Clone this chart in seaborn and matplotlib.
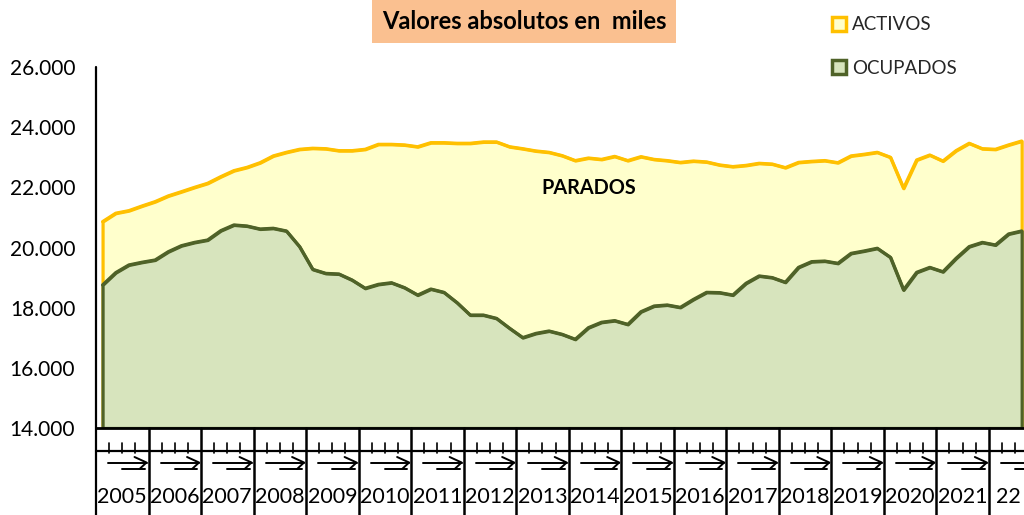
import numpy as np
import pandas as pd
import matplotlib
matplotlib.use("Agg")
import matplotlib.pyplot as plt
import seaborn as sns
from matplotlib.patches import Patch
from matplotlib.transforms import blended_transform_factory
from matplotlib.ticker import FuncFormatter

# ---------------- data (thousands of people, quarterly 2005T1 - 2022T3) -------------
years = list(range(2005, 2023))
year_labels = [str(y) for y in years[:-1]] + ["22"]
quarters_per_year = [4] * 17 + [3]

activos = [20860, 21140, 21225, 21380, 21525, 21715, 21855, 22000, 22135, 22355, 22555, 22665,
           22820, 23045, 23165, 23265, 23300, 23285, 23220, 23220, 23265, 23430, 23430, 23410,
           23350, 23485, 23485, 23465, 23465, 23510, 23510, 23350, 23285, 23210, 23165, 23055,
           22890, 22975, 22930, 23030, 22890, 23020, 22930, 22890, 22830, 22875, 22845, 22745,
           22690, 22730, 22800, 22775, 22655, 22830, 22865, 22890, 22820, 23045, 23100, 23165,
           23000, 21970, 22910, 23075, 22875, 23220, 23465, 23285, 23265, 23410, 23540]

ocupados = [18755, 19165, 19420, 19510, 19585, 19860, 20060, 20170, 20250, 20560, 20750, 20715,
            20615, 20640, 20550, 20030, 19275, 19140, 19120, 18920, 18645, 18775, 18830, 18665,
            18420, 18620, 18510, 18165, 17755, 17755, 17645, 17315, 17005, 17145, 17225, 17115,
            16950, 17335, 17515, 17570, 17445, 17865, 18055, 18090, 18010, 18275, 18510, 18500,
            18420, 18810, 19055, 19000, 18845, 19340, 19530, 19550, 19475, 19805, 19885, 19975,
            19675, 18590, 19175, 19340, 19195, 19640, 20030, 20170, 20085, 20450, 20550]

series_names = ["ACTIVOS", "OCUPADOS"]
fill_colors = ["#FFFFCC", "#D7E4BD"]
line_colors = ["#FFC000", "#4F6228"]

df = pd.DataFrame({"t": np.arange(len(activos)), "ACTIVOS": activos, "OCUPADOS": ocupados})

# ---------------- style ----------------
sns.set_style("white")
plt.rcParams["font.family"] = ["Lato", "DejaVu Sans"]

W, H = 1024, 515
fig = plt.figure(figsize=(W / 100, H / 100), dpi=100)
fig.patch.set_facecolor("white")

cat_px = 13.13
ax_left, ax_bottom, ax_w, ax_h = 96, 87, 928, 361
ax = fig.add_axes([ax_left / W, ax_bottom / H, ax_w / W, ax_h / H])
ax.set_facecolor("white")

base = 14000
for name, fc, lc in zip(series_names, fill_colors, line_colors):
    ax.fill_between(df["t"], base, df[name], facecolor=fc, edgecolor=lc,
                    linewidth=2.3, zorder=2)
    sns.lineplot(data=df, x="t", y=name, color=lc, linewidth=2.3, ax=ax, zorder=3)

ax.set_xlim(-0.5, -0.5 + ax_w / cat_px)
ax.set_ylim(14000, 26000)
ax.set_yticks(np.arange(14000, 26001, 2000))
ax.yaxis.set_major_formatter(FuncFormatter(lambda v, p: f"{int(v):,}".replace(",", ".")))
ax.tick_params(axis="y", length=0, pad=15, labelsize=15, colors="black")
ax.set_xticks([])
ax.set_xlabel("")
ax.set_ylabel("")
for s in ["top", "right", "left"]:
    ax.spines[s].set_visible(False)
ax.spines["bottom"].set_color("black")
ax.spines["bottom"].set_linewidth(2)
ax.spines["bottom"].set_zorder(5)

# left axis line extending down through the category area
ax.plot([0, 0], [1, -0.3], transform=ax.transAxes, color="black", lw=1.6,
        clip_on=False, zorder=6)

# ---------------- category axis (years / quarters) ----------------
tr = blended_transform_factory(ax.transData, ax.transAxes)
def fy(px):  # pixel row -> axes fraction
    return (428 - px) / ax_h

start = -0.5
for lab, nq in zip(year_labels, quarters_per_year):
    end = start + 4
    # separators
    ax.plot([end, end], [0, fy(520)], transform=tr, color="black", lw=1.8,
            clip_on=False, zorder=6)
    for q in range(1, 4):
        ax.plot([start + q, start + q], [fy(443), fy(453)], transform=tr,
                color="black", lw=1.2, clip_on=False)
    # garbled rotated quarter labels (arrow-like marks)
    u = 1 / cat_px
    ax.plot([start + 12 * u, end - 2 * u], [fy(462.5), fy(462.5)], transform=tr,
            color="black", lw=1.4, clip_on=False)
    ax.plot([start + 26 * u, end - 4 * u], [fy(469), fy(469)], transform=tr,
            color="black", lw=1.4, clip_on=False)
    ax.plot([end - 14 * u, end - 2 * u, end - 9 * u],
            [fy(457), fy(462.5), fy(469)], transform=tr, color="black", lw=1.4,
            clip_on=False)
    # year label
    ax.text(start + nq / 2, fy(497), lab, transform=tr, ha="center", va="center",
            fontsize=15.5, color="black", clip_on=False)
    start = end

ax.plot([-0.5, 80], [fy(450.5), fy(450.5)], transform=tr, color="black", lw=1.6,
        clip_on=False)

# ---------------- texts ----------------
ax.text(0.531, 0.665, "PARADOS", transform=ax.transAxes, ha="center", va="center",
        fontsize=14.3, fontweight="bold", color="black", zorder=7)

fig.text(524 / W, 1 - 21.5 / H, "Valores absolutos en  miles", ha="center", va="center",
         fontsize=17, fontweight="bold", color="black",
         bbox=dict(boxstyle="square,pad=0.42", fc="#FAC090", ec="none"))

handles = [Patch(facecolor=fc, edgecolor=lc, linewidth=2.5, label=n)
           for n, fc, lc in zip(series_names, fill_colors, line_colors)]
leg = fig.legend(handles=handles, loc="upper left", bbox_to_anchor=(824 / W, 1 - 9 / H),
                 frameon=False, fontsize=13.5, handlelength=0.75, handleheight=0.75,
                 handletextpad=0.35, labelspacing=1.4, borderaxespad=0)

fig.savefig("out.png", dpi=100)
